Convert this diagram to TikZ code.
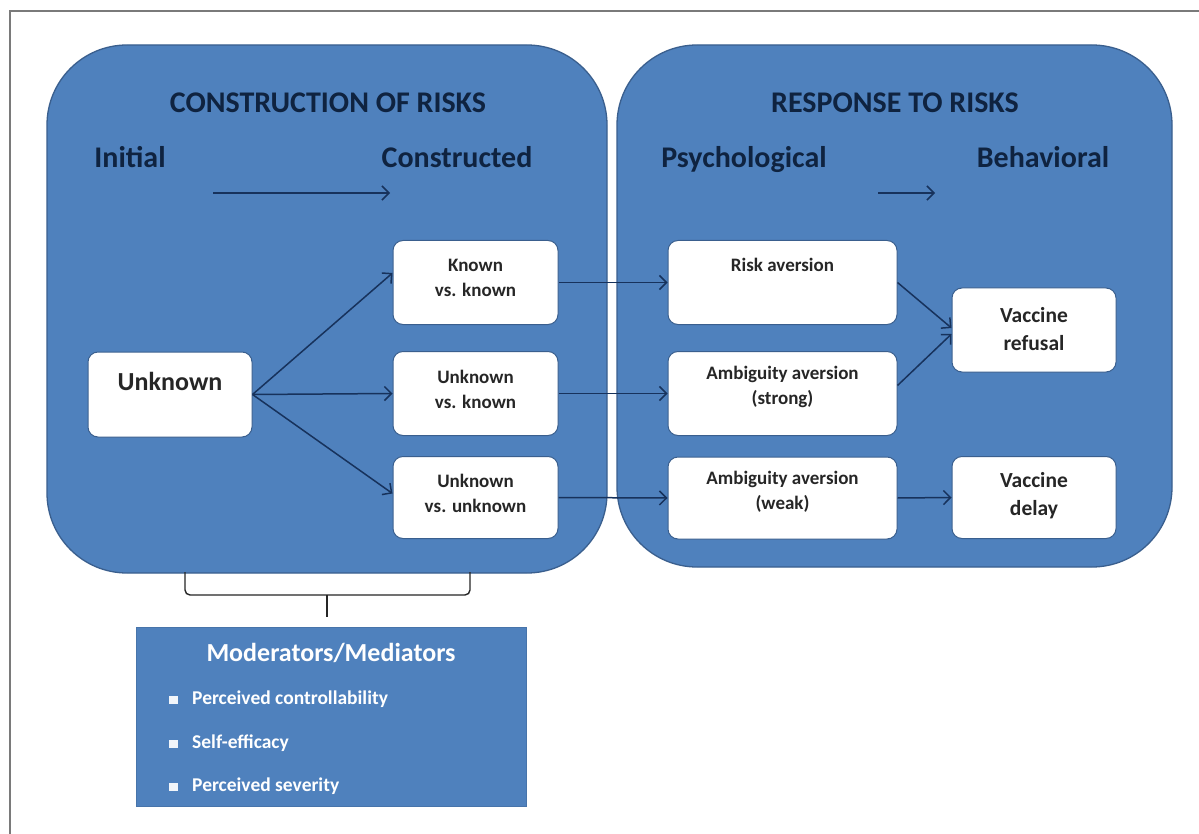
\documentclass[tikz,border=0pt]{standalone}
\usepackage{fontspec}
\setmainfont{Carlito}
\usetikzlibrary{arrows.meta}
\definecolor{boxblue}{HTML}{4F81BD}
\definecolor{boxedge}{HTML}{3A5F8E}
\definecolor{headtxt}{HTML}{0F2340}
\definecolor{bodytxt}{HTML}{262626}
\definecolor{arrowcol}{HTML}{17325C}
\definecolor{framegray}{HTML}{7A7A7A}
\newcommand\fsz[2]{\fontsize{#1}{#2}\selectfont}
\tikzset{
  bigbox/.style={draw=boxedge, line width=1.3pt, fill=boxblue, rounded corners=80pt, minimum width=#1},
  whitebox/.style={draw=boxedge, line width=1pt, fill=white, rounded corners=10pt, minimum height=84pt, minimum width=#1},
  heading/.style={font=\fsz{30}{36}\bfseries, text=headtxt, inner sep=0pt, anchor=base},
  boxtxt/.style={font=\fsz{19}{25}\bfseries, text=bodytxt, align=center, inner sep=0pt},
  conn/.style={draw=arrowcol, line width=1.5pt, -{Straight Barb[length=7pt,width=14pt]}},
  modtxt/.style={font=\fsz{19.5}{23}\bfseries, text=white, anchor=west, inner sep=0pt},
  bullet/.style={fill=white!92!boxblue, minimum width=9pt, minimum height=8pt, inner sep=0pt},
}
\begin{document}
\begin{tikzpicture}[x=1pt,y=-1pt]
\useasboundingbox (0,0) rectangle (1199,834);
\fill[white] (0,0) rectangle (1199,834);
% outer frame (cut off at right and bottom)
\draw[framegray, line width=2pt] (9.5,834) -- (9.5,11.5) -- (1199,11.5);

% big containers
\node[bigbox=560pt, minimum height=528pt] (left) at (327,309) {};
\node[bigbox=555pt, minimum height=522pt] (right) at (894.5,306) {};

% headings
\node[heading] (t1) at (328,112.5) {CONSTRUCTION OF RISKS};
\node[heading] (t2) at (895,112.5) {RESPONSE TO RISKS};
\node[heading] (h1) at (130,168) {Initial};
\node[heading] (h2) at (457,168) {Constructed};
\node[heading] (h3) at (744,168) {Psychological};
\node[heading] (h4) at (1043,168) {Behavioral};
\coordinate (a1s) at (213,193);
\coordinate (a1e) at (390,193);
\coordinate (a2s) at (878,193);
\coordinate (a2e) at (935,193);
\draw[conn] (a1s) -- (a1e);
\draw[conn] (a2s) -- (a2e);

% white boxes
\node[whitebox=164pt, minimum height=85pt] (unk) at (170,394.5) {};
\node[whitebox=165pt] (kk) at (475.5,282.5) {};
\node[whitebox=165pt] (uk) at (475.5,393.5) {};
\node[whitebox=165pt, minimum height=82pt] (uu) at (475.5,497.5) {};
\node[whitebox=229pt] (ra) at (782.5,282.5) {};
\node[whitebox=229pt] (aas) at (782.5,393.5) {};
\node[whitebox=229pt, minimum height=82pt] (aaw) at (782.5,498) {};
\node[whitebox=164pt] (vr) at (1034,330) {};
\node[whitebox=164pt, minimum height=82pt] (vd) at (1034,497.5) {};

% box texts
\node[boxtxt, font=\fsz{26}{30}\bfseries] (unkt) at (170,381) {Unknown};
\node[boxtxt] (kkt) at (475.5,278) {Known\\vs. known};
\node[boxtxt] (ukt) at (475.5,389) {Unknown\\vs. known};
\node[boxtxt] (uut) at (475.5,493) {Unknown\\vs. unknown};
\node[boxtxt] (rat) at (782.5,265) {Risk aversion};
\node[boxtxt] (aast) at (782.5,387) {Ambiguity aversion\\(strong)};
\node[boxtxt] (aawt) at (782.5,492) {Ambiguity aversion\\(weak)};
\node[boxtxt, font=\fsz{21.5}{28}\bfseries] (vrt) at (1034,329) {Vaccine\\refusal};
\node[boxtxt, font=\fsz{21.5}{28}\bfseries] (vdt) at (1034,496) {Vaccine\\delay};

% connectors
\draw[conn] (unk.east) -- ([yshift=9.5pt]kk.west);
\draw[conn] (unk.east) -- (uk.west);
\draw[conn] (unk.east) -- ([yshift=4pt]uu.west);
\draw[conn] (kk.east) -- (ra.west);
\draw[conn] (uk.east) -- (aas.west);
\draw[conn] (uu.east) -- (aaw.west);
\draw[conn] (ra.east) -- ([yshift=2pt]vr.west);
\draw[conn] ([yshift=8pt]aas.east) -- ([yshift=-4pt]vr.west);
\draw[conn] (aaw.east) -- (vd.west);

% bracket
\coordinate (bl) at (185,572);
\coordinate (br) at (470,572);
\coordinate (bm) at (327,595);
\coordinate (bt) at (327,617);
\draw[bodytxt, line width=1.4pt, rounded corners=5pt] (bl) -- (bl |- bm) -- (br |- bm) -- (br);
\draw[bodytxt, line width=1.6pt] (bm) -- (bt);

% moderators box
\node[draw=boxblue!90!black, line width=0.6pt, fill=boxblue, minimum width=390pt, minimum height=179pt] (mod) at (331,716.5) {};
\node[font=\fsz{26}{30}\bfseries, text=white, inner sep=0pt] (modt) at (331,653) {Moderators/Mediators};
\node[bullet] (b1) at (173,700) {};
\node[bullet] (b2) at (173,744) {};
\node[bullet] (b3) at (173,787) {};
\node[modtxt] (m1) at (192,699) {Perceived controllability};
\node[modtxt] (m2) at (192,743) {Self-efficacy};
\node[modtxt] (m3) at (192,786) {Perceived severity};
\end{tikzpicture}
\end{document}
